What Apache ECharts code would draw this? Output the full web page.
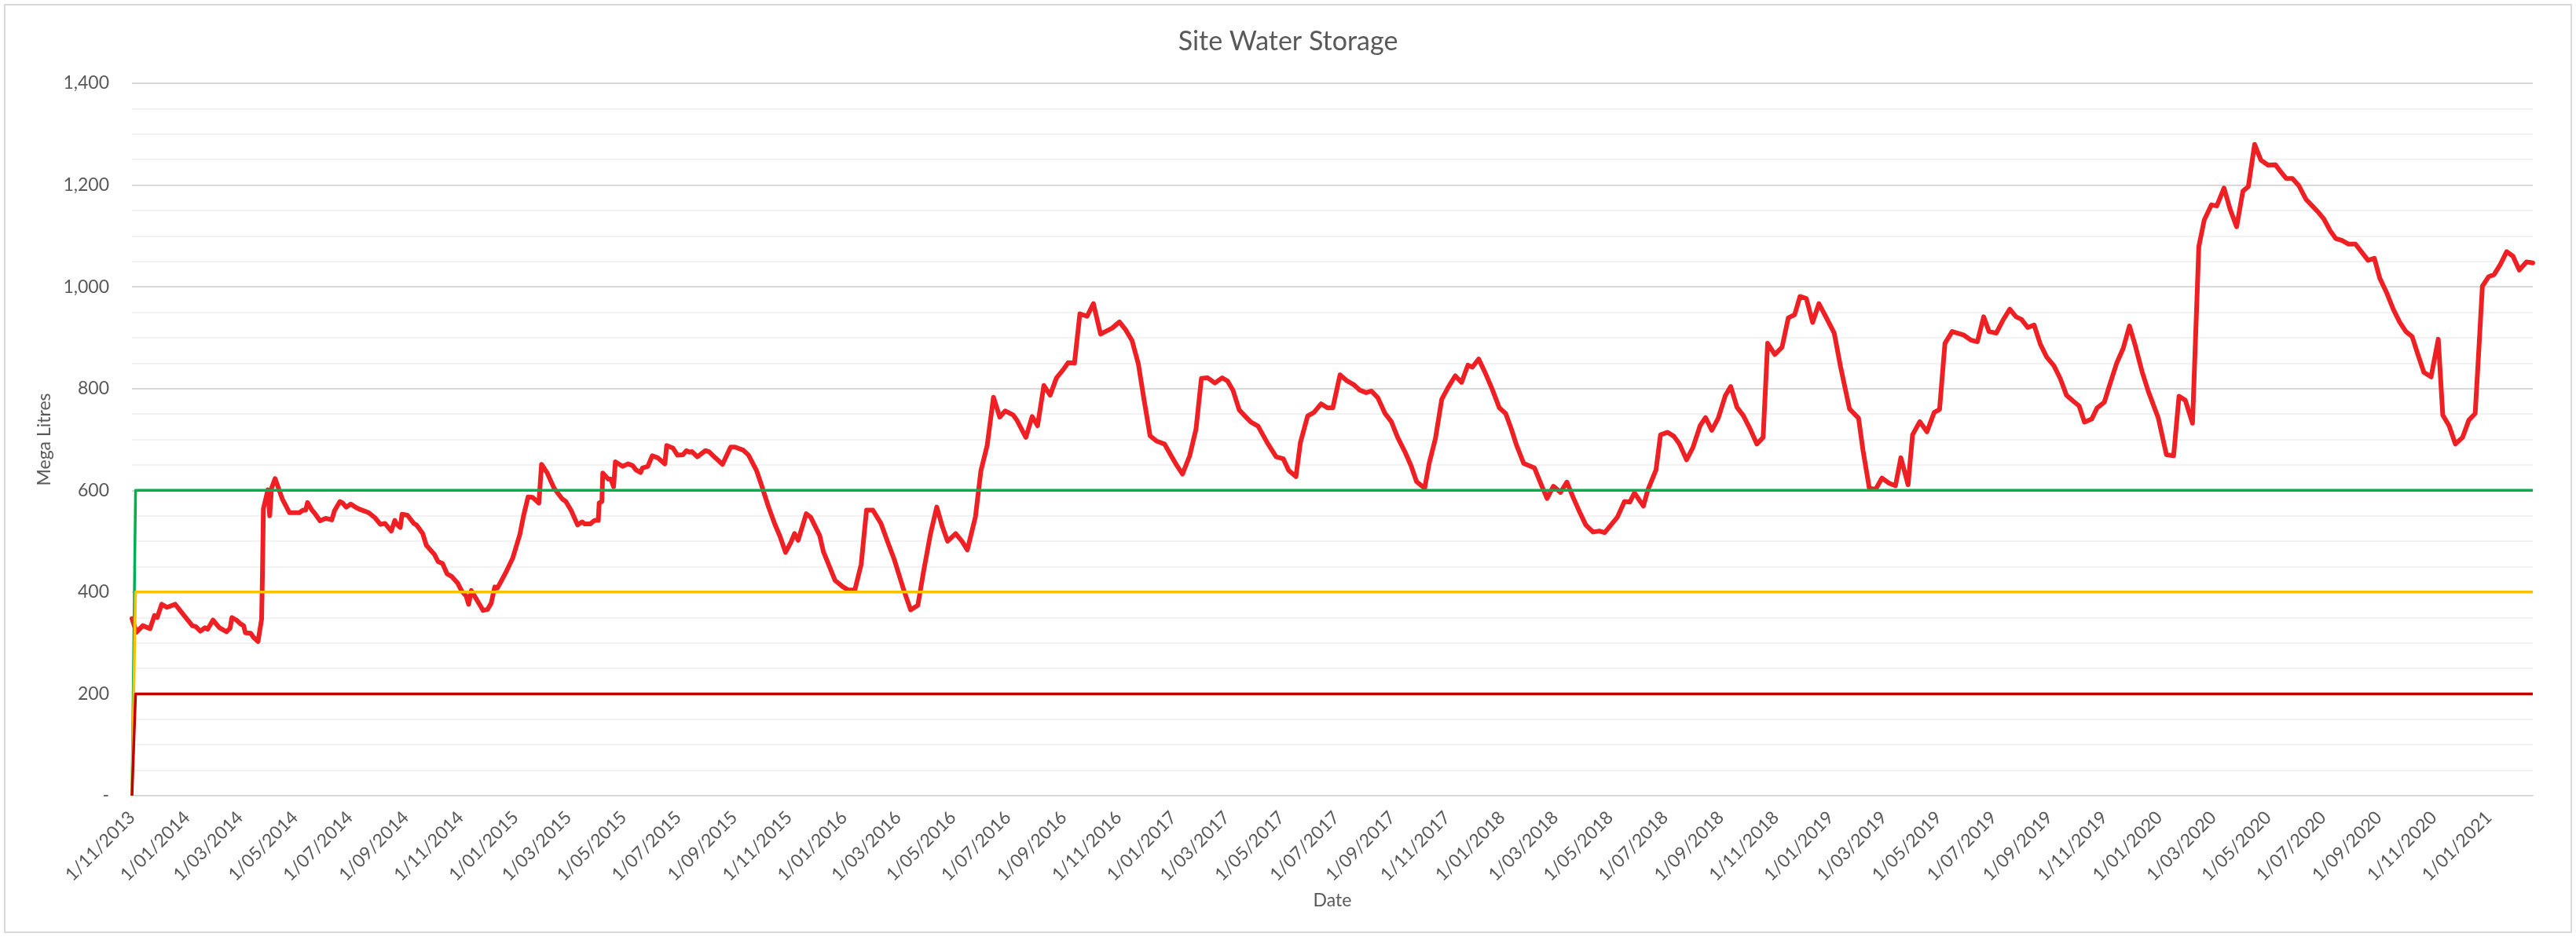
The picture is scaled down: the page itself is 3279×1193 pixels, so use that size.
<!DOCTYPE html>
<html>
<head>
<meta charset="utf-8">
<script src="https://cdn.jsdelivr.net/npm/echarts@6/dist/echarts.min.js"></script>
<style>
html,body{margin:0;padding:0;background:#fff;}
#chart{width:3279px;height:1193px;}
</style>
</head>
<body>
<div id="chart"></div>
<script>
// ---- Data ----
const startDate = '2013-11-01';
const lastDay = 2667; // days after 1/11/2013 of the last reading

// days after 1/11/2013
const storageDays = [
0,5,12,20,25,28,33,39,48,57,67,71,76,81,84,90,97,105,109,111,116,121,124,126,132,135,140,144,145,146,
151,153,155,159,164,167,175,186,190,193,195,200,203,209,215,222,225,231,234,238,243,249,254,263,270,276,281,288,292,294,
298,300,306,313,316,323,327,336,340,345,350,355,362,366,371,374,377,382,390,395,399,403,406,410,416,423,431,435,440,445,
452,455,461,469,478,482,488,495,500,503,509,514,518,519,522,523,529,532,535,537,545,551,556,560,565,567,573,578,584,592,
594,601,606,612,616,619,622,628,637,641,648,656,665,670,679,685,694,699,707,714,720,726,732,736,740,749,754,764,768,781,
790,796,803,810,816,823,832,839,847,857,865,873,879,887,894,900,906,915,922,928,937,943,950,957,964,970,979,983,993,1000,
1006,1013,1020,1027,1034,1040,1047,1053,1061,1068,1076,1089,1097,1104,1111,1118,1124,1131,1138,1147,1155,1161,1167,1175,1182,1188,1195,1203,1211,1217,
1223,1230,1238,1243,1251,1261,1271,1279,1285,1293,1298,1306,1313,1321,1328,1334,1342,1349,1357,1364,1371,1377,1384,1392,1399,1406,1414,1421,1427,1436,
1441,1448,1455,1462,1470,1477,1484,1489,1496,1504,1511,1519,1526,1532,1538,1546,1558,1566,1572,1579,1587,1594,1601,1608,1615,1623,1630,1636,1643,1650,
1658,1664,1669,1679,1684,1693,1698,1706,1713,1719,1727,1734,1742,1748,1755,1762,1770,1776,1783,1790,1798,1805,1812,1817,1825,1833,1840,1847,1853,1860,
1867,1874,1882,1891,1898,1908,1918,1923,1930,1937,1944,1952,1959,1965,1973,1978,1986,1994,2002,2008,2014,2022,2035,2043,2050,2057,2063,2071,2078,2086,
2093,2099,2106,2113,2120,2127,2135,2142,2149,2156,2163,2169,2177,2183,2191,2198,2205,2212,2219,2225,2233,2240,2251,2260,2268,2274,2281,2289,2296,2302,
2310,2316,2324,2331,2338,2345,2351,2358,2365,2373,2381,2387,2393,2400,2407,2415,2422,2429,2435,2442,2448,2455,2462,2470,2477,2484,2491,2497,2505,2512,
2519,2526,2533,2539,2546,2554,2562,2567,2574,2581,2589,2596,2603,2607,2611,2618,2624,2631,2638,2645,2652,2660,2667
];

// Mega Litres
const storageML = [
348,321,334,328,354,350,376,370,376,356,334,332,323,330,327,345,330,322,329,350,345,337,334,320,319,311,303,347,442,564,
601,550,604,623,598,583,556,556,561,561,576,561,555,540,545,542,560,578,575,567,573,566,562,556,546,533,535,520,541,534,
527,553,551,535,532,515,492,474,460,456,436,431,417,403,393,376,403,388,364,366,378,410,408,421,441,467,514,550,587,586,
575,651,635,604,583,578,560,532,538,534,534,541,541,575,578,634,622,622,607,656,647,652,649,640,635,644,647,668,664,652,
688,683,669,670,678,675,676,666,678,676,664,651,685,685,679,669,638,612,568,534,509,478,498,515,502,554,547,511,480,423,
410,404,404,454,561,561,535,501,463,406,365,374,437,514,567,530,500,515,500,483,548,638,688,783,744,756,748,738,704,745,
727,806,787,821,836,851,850,947,942,967,907,919,931,915,894,848,781,707,697,691,666,648,632,668,720,820,821,811,821,815,
797,758,743,734,726,694,666,662,639,627,694,746,753,770,762,762,827,816,808,797,792,795,782,751,735,704,676,648,617,604,
653,702,779,802,825,812,846,842,858,828,799,762,751,722,689,653,644,609,584,608,596,616,586,558,532,518,520,517,532,547,
578,577,595,569,601,640,709,714,706,691,660,684,727,743,718,741,786,804,763,747,719,691,704,889,867,881,939,945,981,977,
930,967,940,909,843,760,742,678,604,602,624,614,609,664,611,709,735,715,753,759,889,912,905,895,892,941,912,909,933,956,
941,936,920,925,887,862,845,820,787,776,766,734,740,762,773,813,851,879,923,887,833,794,742,670,668,785,777,732,1079,1131,
1161,1159,1194,1151,1118,1188,1197,1280,1249,1239,1240,1226,1213,1213,1199,1172,1159,1146,1133,1110,1095,1091,1084,1084,1068,1052,1056,1017,987,956,
931,912,902,869,832,823,897,748,727,691,704,738,751,874,1001,1020,1024,1044,1069,1060,1033,1049,1047
];

// Threshold lines
const thresholdNames = ['Green Level', 'Amber Level', 'Red Level'];
const thresholdValues = [600, 400, 200];
const thresholdColors = ['#00B050', '#FFC000', '#C00000'];
const thresholdRiseDay = 4;

// Y axis
const yMin = 0, yMax = 1400, yInterval = 200;

// ---- Build categories (one per day) ----
const startMs = Date.parse(startDate + 'T00:00:00Z');
const categories = [];
for (let i = 0; i <= lastDay; i++) {
  categories.push(new Date(startMs + i * 86400000).toISOString().slice(0, 10));
}

const storageData = storageDays.map((d, i) => [d, storageML[i]]);

const font = 'Lato, "Open Sans", sans-serif';
const txt = '#595959';

const thresholdSeries = thresholdValues.map((v, i) => ({
  name: thresholdNames[i],
  type: 'line',
  data: [[0, 0], [thresholdRiseDay, v], [lastDay, v]],
  showSymbol: false,
  symbol: 'none',
  lineStyle: { color: thresholdColors[i], width: 3.5, join: 'round' },
  itemStyle: { color: thresholdColors[i] },
  z: 3 + i,
  silent: true
}));

const chart = echarts.init(document.getElementById('chart'), null, { renderer: 'canvas' });
chart.setOption({
  animation: false,
  backgroundColor: '#ffffff',
  title: {
    text: 'Site Water Storage',
    left: 'center',
    top: 31,
    textStyle: { fontFamily: font, fontSize: 34, fontWeight: 'normal', color: txt }
  },
  graphic: [{
    type: 'rect',
    shape: { x: 6, y: 6, width: 3267, height: 1181 },
    style: { fill: 'none', stroke: '#d9d9d9', lineWidth: 2 },
    silent: true, z: -10
  }],
  grid: { left: 168, right: 55, top: 106, bottom: 180 },
  xAxis: {
    type: 'category',
    data: categories,
    boundaryGap: false,
    name: 'Date',
    nameLocation: 'middle',
    nameGap: 122,
    nameTextStyle: { fontFamily: font, fontSize: 23, color: txt },
    axisLine: { show: true, lineStyle: { color: '#d9d9d9', width: 2 } },
    axisTick: { show: false },
    splitLine: { show: false },
    axisLabel: {
      interval: (index, value) => {
        const m = +value.slice(5, 7), d = +value.slice(8, 10);
        return d === 1 && m % 2 === 1;
      },
      rotate: 45,
      margin: 24,
      fontFamily: font,
      fontSize: 23,
      color: txt,
      formatter: (value) => `${+value.slice(8, 10)}/${value.slice(5, 7)}/${value.slice(0, 4)}`
    }
  },
  yAxis: {
    type: 'value',
    min: yMin, max: yMax, interval: yInterval,
    name: 'Mega Litres',
    nameLocation: 'middle',
    nameRotate: 90,
    nameGap: 100,
    nameTextStyle: { fontFamily: font, fontSize: 23, color: txt },
    axisLine: { show: false },
    axisTick: { show: false },
    axisLabel: {
      margin: 29,
      fontFamily: font, fontSize: 23, color: txt,
      formatter: (v) => v === 0 ? '-' : v.toLocaleString('en-US')
    },
    splitLine: { show: true, lineStyle: { color: '#d9d9d9', width: 2 } },
    minorTick: { show: false, splitNumber: 4 },
    minorSplitLine: { show: true, lineStyle: { color: '#f2f2f2', width: 2 } }
  },
  series: [
    {
      name: 'Storage',
      type: 'line',
      data: storageData,
      showSymbol: false,
      symbol: 'none',
      lineStyle: { color: '#EE2024', width: 6, join: 'round', cap: 'round' },
      itemStyle: { color: '#EE2024' },
      z: 2
    },
    ...thresholdSeries
  ]
});
</script>
</body>
</html>
